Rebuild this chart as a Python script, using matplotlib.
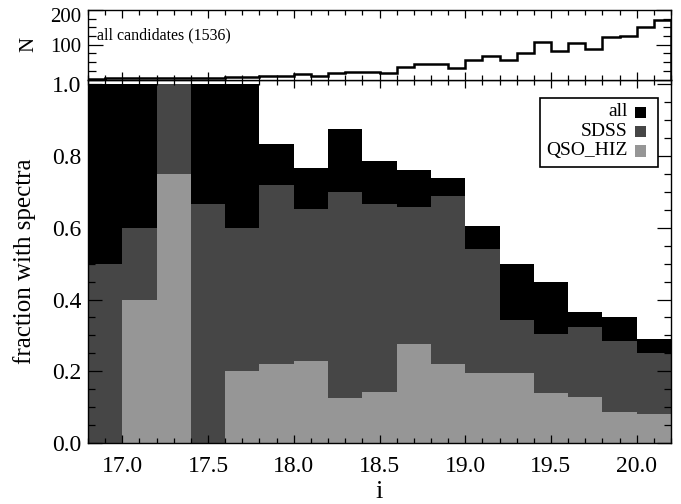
import numpy as np
import matplotlib
matplotlib.use("Agg")
import matplotlib.pyplot as plt
import matplotlib.transforms as mtransforms
from matplotlib.ticker import MultipleLocator, FixedLocator, FixedFormatter, FormatStrFormatter
from matplotlib.patches import Rectangle

plt.rcParams['font.family'] = ['Liberation Serif', 'DejaVu Serif']

# ---- data ----
# fraction bins (width 0.2 in i magnitude)
frac_edges = [16.8, 17.0, 17.2, 17.4, 17.6, 17.8, 18.0, 18.2, 18.4, 18.6,
              18.8, 19.0, 19.2, 19.4, 19.6, 19.8, 20.0, 20.2]
frac_all = [1.0, 1.0, 1.0, 1.0, 1.0, 0.833, 0.768, 0.875, 0.785, 0.760,
            0.739, 0.605, 0.500, 0.449, 0.365, 0.351, 0.291]
frac_sdss = [0.5, 0.6, 1.0, 0.667, 0.6, 0.720, 0.653, 0.699, 0.665, 0.658,
             0.688, 0.540, 0.342, 0.303, 0.323, 0.283, 0.251]
frac_qso_hiz = [0.0, 0.4, 0.75, 0.0, 0.2, 0.221, 0.230, 0.125, 0.142, 0.277,
                0.219, 0.196, 0.196, 0.140, 0.128, 0.086, 0.080]

# candidate counts (bins of width 0.1)
hist_edges = np.round(np.arange(16.8, 20.2001, 0.1), 2)
hist_counts = [2, 4, 4, 4, 3, 3, 3, 5, 7, 7,
               9, 11, 16, 10, 18, 22, 22, 20, 35, 46,
               45, 33, 55, 68, 56, 76, 108, 83, 106, 88,
               121, 126, 150, 172]
n_total = 1536

series_labels = ['all', 'SDSS', 'QSO_HIZ']
series_colors = ['#000000', '#464646', '#969696']

xticks = [17.0, 17.5, 18.0, 18.5, 19.0, 19.5, 20.0]

# ---- figure ----
W, H = 681, 504
fig = plt.figure(figsize=(W / 100, H / 100), dpi=100)

def fx(px):
    return px / W

def fy(py):
    return 1 - py / H

ax_left, ax_right = 88, 671
main_top, main_bot = 79.5, 443
top_top = 10

ax = fig.add_axes([fx(ax_left), fy(main_bot), fx(ax_right) - fx(ax_left), fy(main_top) - fy(main_bot)])
axh = fig.add_axes([fx(ax_left), fy(main_top), fx(ax_right) - fx(ax_left), fy(top_top) - fy(main_top)])

# fractions
widths = np.diff(frac_edges)
lefts = frac_edges[:-1]
for vals, col in zip([frac_all, frac_sdss, frac_qso_hiz], series_colors):
    ax.bar(lefts, vals, width=widths, align='edge', color=col, linewidth=0)

ax.set_xlim(16.8, 20.2)
ax.set_ylim(0, 1.0134)
ax.xaxis.set_major_locator(FixedLocator(xticks))
ax.xaxis.set_major_formatter(FormatStrFormatter('%.1f'))
ax.xaxis.set_minor_locator(MultipleLocator(0.1))
ax.yaxis.set_major_locator(MultipleLocator(0.2))
ax.yaxis.set_major_formatter(FormatStrFormatter('%.1f'))
ax.yaxis.set_minor_locator(MultipleLocator(0.05))
ax.tick_params(which='both', direction='in', top=True, right=True, labelsize=17, width=0.9, color='black')
ax.tick_params(axis='x', which='major', length=6, pad=9)
ax.tick_params(axis='x', which='minor', length=3.5)
ax.tick_params(axis='y', which='major', length=10, pad=5)
ax.tick_params(axis='y', which='minor', length=5)
ax.set_xlabel('i', fontsize=19, labelpad=3)
ax.set_ylabel('fraction with spectra', fontsize=18, labelpad=11)
for s in ax.spines.values():
    s.set_linewidth(1.0)

# legend box drawn manually
lx0, ly0, lx1, ly1 = 540, 98, 658, 167
ax.add_patch(Rectangle((fx(lx0), fy(ly1)), fx(lx1) - fx(lx0), fy(ly0) - fy(ly1),
                       transform=fig.transFigure, facecolor='white', edgecolor='black',
                       linewidth=1.2, zorder=5))
rows_y = [112, 131.5, 151]
for lab, col, yy in zip(series_labels, series_colors, rows_y):
    fig.text(fx(628), fy(yy), lab, ha='right', va='center', fontsize=14, zorder=6)
    ax.add_patch(Rectangle((fx(635), fy(yy + 5.5)), fx(11), 11 / H,
                           transform=fig.transFigure, facecolor=col, edgecolor='none', zorder=6))

# histogram panel
axh.stairs(hist_counts, hist_edges, color='black', linewidth=1.8)
axh.set_xlim(16.8, 20.2)
axh.set_ylim(0, 200)
axh.xaxis.set_major_locator(FixedLocator(xticks))
axh.xaxis.set_minor_locator(MultipleLocator(0.1))
axh.yaxis.set_major_locator(FixedLocator([0, 100, 200]))
axh.yaxis.set_major_formatter(FixedFormatter(['', '100', '200']))
axh.yaxis.set_minor_locator(MultipleLocator(25))
axh.tick_params(which='both', direction='in', top=True, right=True, labelsize=15, width=0.9)
axh.tick_params(axis='x', which='both', labelbottom=False)
axh.tick_params(axis='x', which='major', length=6)
axh.tick_params(axis='x', which='minor', length=3.5)
axh.tick_params(axis='y', which='major', length=11, pad=5)
axh.tick_params(axis='y', which='minor', length=6)
axh.set_ylabel('N', fontsize=15, labelpad=8)
axh.text(0.016, 0.63, 'all candidates (%d)' % n_total, transform=axh.transAxes,
         fontsize=11.5, ha='left', va='center')
for s in axh.spines.values():
    s.set_linewidth(1.0)

# nudge the top "200" label down slightly so it sits inside the panel height
fig.canvas.draw()
shift = mtransforms.ScaledTranslation(0, -5 / 100, fig.dpi_scale_trans)
for lbl in axh.get_yticklabels():
    if lbl.get_text() == '200':
        lbl.set_transform(lbl.get_transform() + shift)

fig.savefig('out.png', dpi=100)
